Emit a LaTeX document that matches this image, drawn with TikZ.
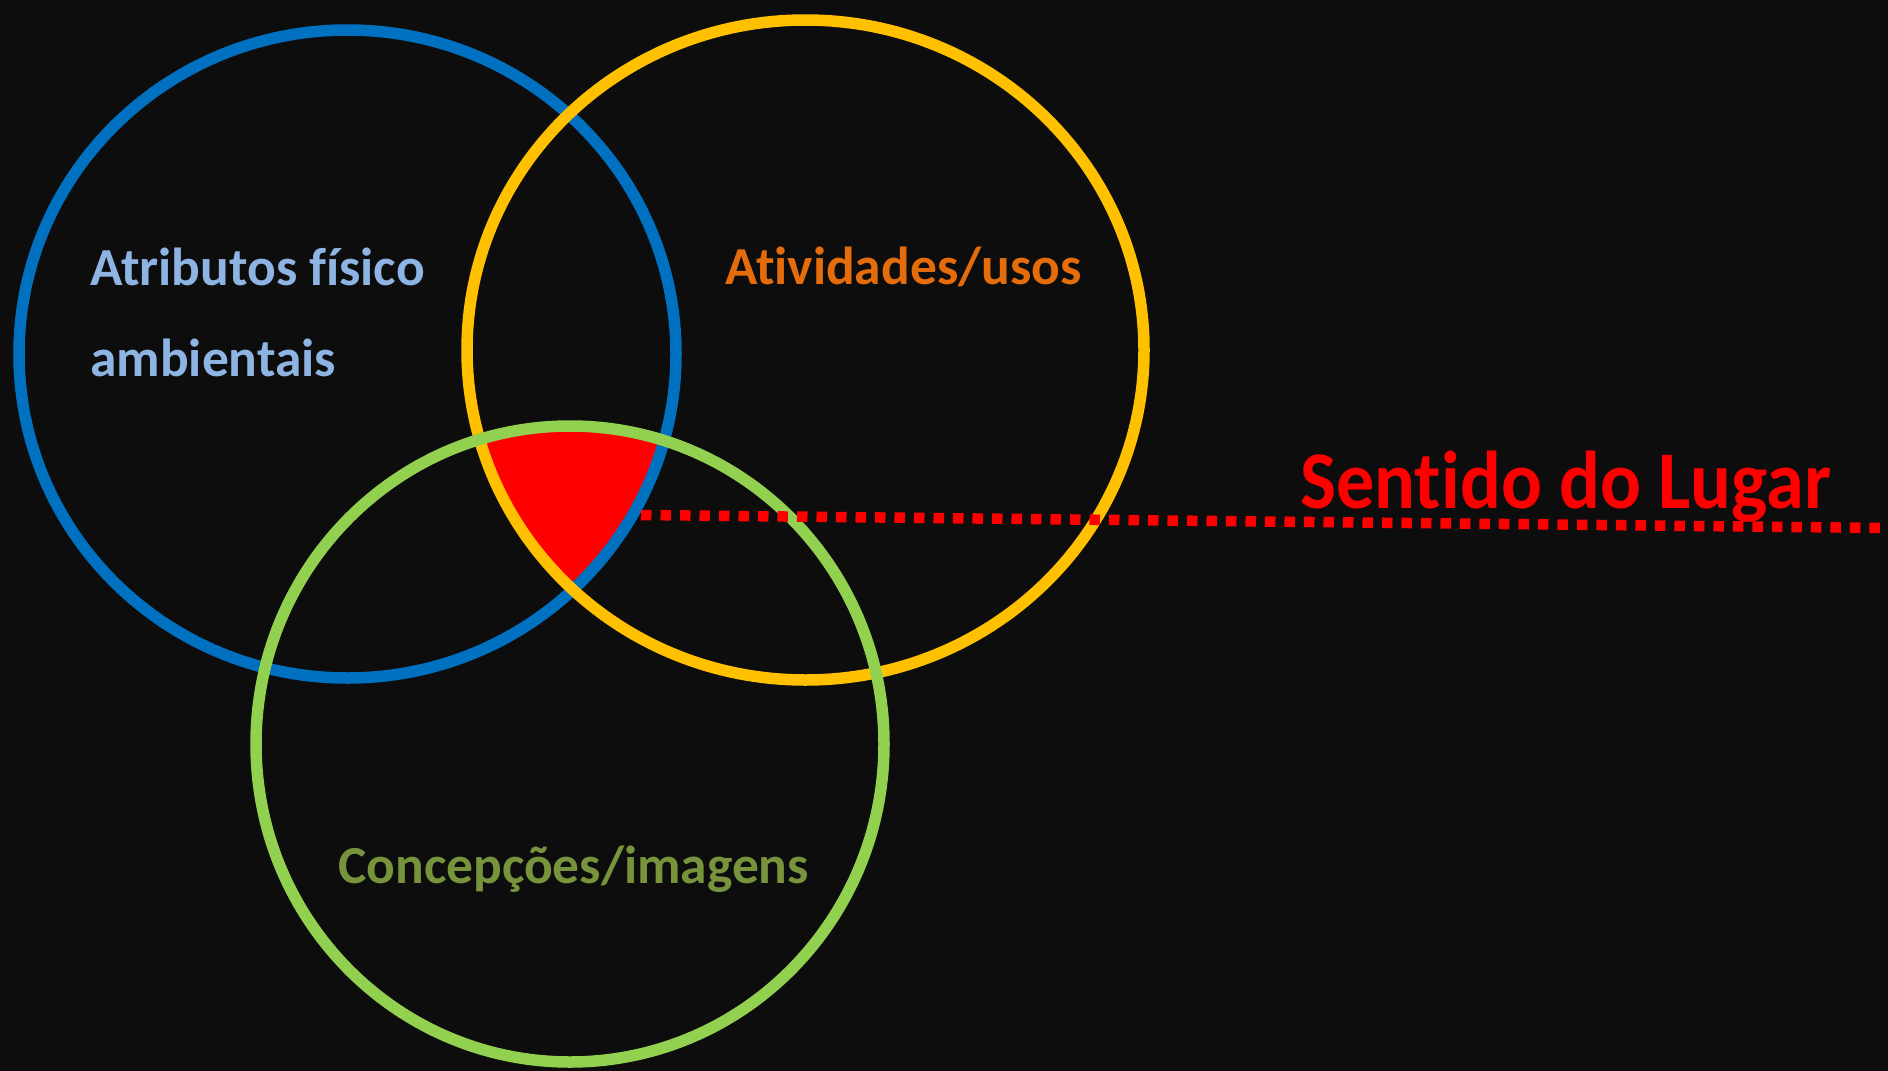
\documentclass[tikz,border=0pt]{standalone}
\usepackage{fontspec}
\setmainfont{Carlito}[Ligatures=NoCommon]
\usetikzlibrary{shapes.geometric}
\definecolor{bg}{HTML}{0D0D0D}
\definecolor{cblue}{HTML}{0070C0}
\definecolor{cyellow}{HTML}{FFC000}
\definecolor{cgreen}{HTML}{92D050}
\definecolor{cred}{HTML}{FF0000}
\definecolor{tblue}{HTML}{8EB4E3}
\definecolor{torange}{HTML}{E46C0A}
\definecolor{tgreen}{HTML}{77933C}
\tikzset{
  ring/.style={draw=#1, line width=11.5pt, ellipse, inner sep=0pt, outer sep=0pt},
  label/.style={anchor=base west, inner sep=0pt, font=\bfseries\fontsize{53.5}{64}\selectfont},
  dotline/.style={draw=cred, line width=10.5pt, dash pattern=on 10.5pt off 9pt, line cap=butt},
}
\begin{document}
\begin{tikzpicture}[x=1pt,y=-1pt]
\useasboundingbox (0,0) rectangle (1888,1071);
\fill[bg] (0,0) rectangle (1888,1071);
% red intersection
\begin{scope}
\clip (347.5,354) ellipse [x radius=328.5, y radius=324];
\clip (805.5,350) ellipse [x radius=338.5, y radius=330];
\clip (570,744) ellipse [x radius=314, y radius=318];
\fill[cred] (0,0) rectangle (1888,1071);
\end{scope}
% circles
\node[ring=cblue, minimum width=657pt, minimum height=648pt] (blue) at (347.5,354) {};
\node[ring=cyellow, minimum width=677pt, minimum height=660pt] (yellow) at (805.5,350) {};
\node[ring=cgreen, minimum width=628pt, minimum height=636pt] (green) at (570,744) {};
% dotted line
\coordinate (ls) at (641,515);
\coordinate (le) at (1888,528);
\draw[dotline] (ls) -- (le);
% labels
\node[label, text=tblue] (t1) at (90,285) {Atributos físico};
\node[label, text=tblue] (t2) at (90,376) {ambientais};
\node[label, text=torange] (t3) at (725,284) {Atividades/usos};
\node[label, text=tgreen] (t4) at (338,883) {Concepções/imagens};
\node[anchor=base west, inner sep=0pt, text=cred, xscale=0.93, font=\bfseries\fontsize{82}{98}\selectfont] (t5) at (1300,508) {Sentido do Lugar};
\end{tikzpicture}
\end{document}
